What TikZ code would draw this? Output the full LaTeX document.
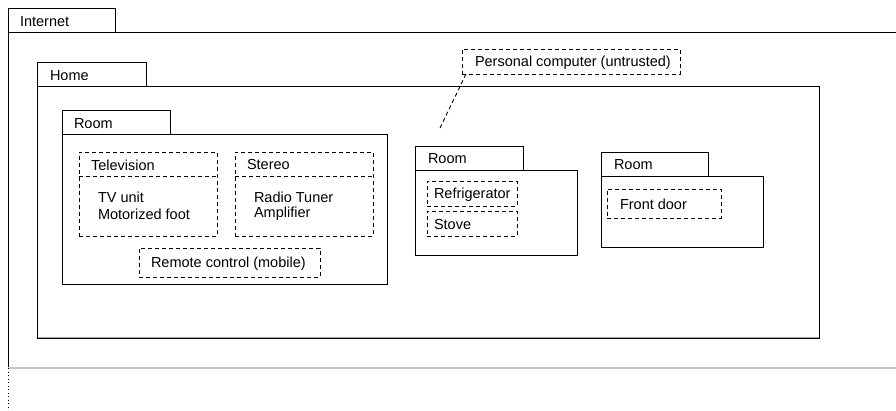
\documentclass[tikz,border=0pt]{standalone}
\usepackage{fontspec}
\setmainfont{Liberation Sans}
\begin{document}
\begin{tikzpicture}[x=1pt,y=-1pt,
  every node/.style={inner sep=0pt,outer sep=0pt},
  txt/.style={anchor=west,font=\fontsize{14.5}{17}\selectfont},
  solidbox/.style={draw=black,line width=1pt,anchor=north west},
  dbox/.style={draw=black,line width=0.9pt,dash pattern=on 4pt off 3pt,anchor=north west},
  line/.style={draw=black,line width=1pt}]
\useasboundingbox[fill=white] (0,0) rectangle (896,410);
% Internet
\node[solidbox,minimum width=107,minimum height=24] (inettab) at (8,8) {};
\coordinate (inettr) at (896,32);
\coordinate (inetbl) at (8,368);
\coordinate (inetbr) at (896,368);
\coordinate (inetend) at (8,410);
\draw[line] (inettab.south west) -- (inettr);
\draw[line] (inettab.south west) -- (inetbl);
\draw[draw=black!22,line width=2pt] (inetbl) -- (inetbr);
\draw[black,line width=0.8pt,dash pattern=on 1.2pt off 2.3pt] (inetbl) -- (inetend);
\node[txt] (inetlbl) at (20,21.5) {Internet};
% Home
\node[solidbox,minimum width=109,minimum height=24] (hometab) at (37,62) {};
\draw[draw=black!35,line width=1pt] ([yshift=1pt]37,338) -- ([yshift=1pt]819,338);
\node[solidbox,minimum width=782,minimum height=252] (home) at (37,86) {};
\node[txt] (homelbl) at (50,75.5) {Home};
% Personal computer
\node[dbox,minimum width=218,minimum height=25] (pc) at (462,49) {};
\node[txt] (pclbl) at (475,62.5) {Personal computer (untrusted)};
\coordinate (pcend) at (440,128);
\draw[black,line width=0.9pt,dash pattern=on 4pt off 3pt] (pc.south west) ++(4,0) -- (pcend);
% Room 1
\node[solidbox,minimum width=108,minimum height=24] (r1tab) at (62,110) {};
\node[solidbox,minimum width=325,minimum height=150] (r1) at (62,134) {};
\node[txt] (r1lbl) at (74,123.5) {Room};
\node[dbox,minimum width=138,minimum height=84] (tv) at (79,152) {};
\draw[black,line width=0.9pt,dash pattern=on 4pt off 3pt] ([yshift=-24pt]tv.north west) -- ([yshift=-24pt]tv.north east);
\node[txt] (tvlbl) at (91,165) {Television};
\node[txt] (tv1) at (98,197) {TV unit};
\node[txt] (tv2) at (98,214) {Motorized foot};
\node[dbox,minimum width=138,minimum height=84] (st) at (235,152) {};
\draw[black,line width=0.9pt,dash pattern=on 4pt off 3pt] ([yshift=-24pt]st.north west) -- ([yshift=-24pt]st.north east);
\node[txt] (stlbl) at (247,165) {Stereo};
\node[txt] (st1) at (254,197) {Radio Tuner};
\node[txt] (st2) at (254,214) {Amplifier};
\node[dbox,minimum width=181,minimum height=29] (rc) at (139,248) {};
\node[txt] (rclbl) at (151,263.5) {Remote control (mobile)};
% Room 2
\node[solidbox,minimum width=108,minimum height=24] (r2tab) at (415,146) {};
\node[solidbox,minimum width=162,minimum height=85] (r2) at (415,170) {};
\node[txt] (r2lbl) at (428,159) {Room};
\node[dbox,minimum width=90,minimum height=25] (fr) at (427,181) {};
\node[txt] (frlbl) at (434,194.5) {Refrigerator};
\node[dbox,minimum width=90,minimum height=25] (sv) at (427,211) {};
\node[txt] (svlbl) at (434,225) {Stove};
% Room 3
\node[solidbox,minimum width=107,minimum height=24] (r3tab) at (601,152) {};
\node[solidbox,minimum width=162,minimum height=71] (r3) at (601,176) {};
\node[txt] (r3lbl) at (614,165) {Room};
\node[dbox,minimum width=114,minimum height=29] (fd) at (607,189) {};
\node[txt] (fdlbl) at (620,204) {Front door};
\end{tikzpicture}
\end{document}
